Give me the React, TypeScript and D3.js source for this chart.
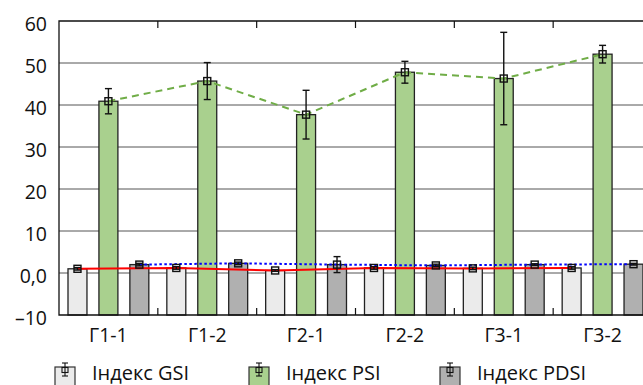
import React, { useEffect, useRef } from "react";
import * as d3 from "d3";

const CATEGORIES = ["Г1-1", "Г1-2", "Г2-1", "Г2-2", "Г3-1", "Г3-2"];
const SERIES = ["Індекс GSI", "Індекс PSI", "Індекс PDSI"];

const GSI = [1.0, 1.2, 0.6, 1.2, 1.1, 1.2];
const GSI_ERR = [0.3, 0.3, 0.2, 0.3, 0.3, 0.3];
const PSI = [40.9, 45.7, 37.7, 47.8, 46.3, 52.1];
const PSI_ERR = [3.0, 4.4, 5.8, 2.6, 11.0, 2.1];
const PDSI = [2.0, 2.3, 2.0, 1.8, 2.0, 2.1];
const PDSI_ERR = [0.3, 0.3, 1.9, 0.3, 0.2, 0.2];

const Y_TICKS = [-10, 0, 10, 20, 30, 40, 50, 60];

const WIDTH = 643;
const HEIGHT = 385;
const FONT = "'Open Sans', 'Noto Sans', sans-serif";

const FILLS = ["#ebebeb", "#a9d08e", "#b0b0b0"];
const LINE_COLORS = ["#ff0000", "#70ad47", "#0000ff"];
const LINE_DASH = [null, "7,5", "2.5,2.5"];

export default function App() {
	const ref = useRef<SVGSVGElement>(null);

	useEffect(() => {
		const svg = d3.select(ref.current);
		svg.selectAll("*").remove();

		const left = 59,
			right = 652,
			top = 21,
			bottom = 315;

		const y = d3.scaleLinear().domain([-10, 60]).range([bottom, top]);
		const x0 = d3.scaleBand().domain(CATEGORIES).range([left, right]);
		const x1 = d3
			.scaleBand()
			.domain(SERIES)
			.range([9, x0.bandwidth() - 9])
			.paddingInner(0.387);

		const values = [GSI, PSI, PDSI];
		const errors = [GSI_ERR, PSI_ERR, PDSI_ERR];

		// grid lines
		svg
			.append("g")
			.selectAll("line")
			.data(Y_TICKS.filter((t) => t > -10 && t < 60))
			.enter()
			.append("line")
			.attr("x1", left)
			.attr("x2", right)
			.attr("y1", (d) => y(d))
			.attr("y2", (d) => y(d))
			.attr("stroke", "#555")
			.attr("stroke-width", 1);

		// y labels
		svg
			.append("g")
			.selectAll("text")
			.data(Y_TICKS)
			.enter()
			.append("text")
			.attr("x", 47)
			.attr("y", (d) => y(d) + 5)
			.attr("text-anchor", "end")
			.attr("dominant-baseline", "middle")
			.style("font-family", FONT)
			.style("font-size", "19.5px")
			.attr("fill", "#111")
			.text((d) => (d === 0 ? "0,0" : d < 0 ? "–" + Math.abs(d) : String(d)));

		// bars
		values.forEach((vals, s) => {
			svg
				.append("g")
				.selectAll("rect")
				.data(vals)
				.enter()
				.append("rect")
				.attr("x", (d, i) => x0(CATEGORIES[i])! + x1(SERIES[s])!)
				.attr("y", (d) => y(d))
				.attr("width", x1.bandwidth())
				.attr("height", (d) => y(-10) - y(d))
				.attr("fill", FILLS[s])
				.attr("stroke", "#222")
				.attr("stroke-width", 1.3);
		});

		// axes frame
		svg
			.append("path")
			.attr("d", `M${right},${top}H${left}V${bottom}H${right}`)
			.attr("fill", "none")
			.attr("stroke", "#111")
			.attr("stroke-width", 1.3);

		// category boundary ticks
		const bounds = CATEGORIES.slice(1).map((c) => x0(c)!);
		const tg = svg.append("g").attr("stroke", "#111").attr("stroke-width", 1.2);
		bounds.forEach((b) => {
			tg.append("line").attr("x1", b).attr("x2", b).attr("y1", top).attr("y2", top + 7);
			tg.append("line").attr("x1", b).attr("x2", b).attr("y1", bottom).attr("y2", bottom - 7);
		});

		const cx = (s: number, i: number) =>
			x0(CATEGORIES[i])! + x1(SERIES[s])! + x1.bandwidth() / 2;

		// trend lines
		values.forEach((vals, s) => {
			const line = d3
				.line<number>()
				.x((d, i) => cx(s, i))
				.y((d) => y(d));
			svg
				.append("path")
				.datum(vals)
				.attr("d", line)
				.attr("fill", "none")
				.attr("stroke", LINE_COLORS[s])
				.attr("stroke-width", 2)
				.attr("stroke-dasharray", LINE_DASH[s]);
		});

		// error bars + markers
		values.forEach((vals, s) => {
			const g = svg.append("g").attr("stroke", "#111").attr("stroke-width", 1.4);
			vals.forEach((v, i) => {
				const e = errors[s][i];
				const xc = cx(s, i);
				g.append("line").attr("x1", xc).attr("x2", xc).attr("y1", y(v + e)).attr("y2", y(v - e));
				g.append("line").attr("x1", xc - 3.5).attr("x2", xc + 3.5).attr("y1", y(v + e)).attr("y2", y(v + e));
				g.append("line").attr("x1", xc - 3.5).attr("x2", xc + 3.5).attr("y1", y(v - e)).attr("y2", y(v - e));
				g.append("rect")
					.attr("x", xc - 3.5)
					.attr("y", y(v) - 3.5)
					.attr("width", 7)
					.attr("height", 7)
					.attr("fill", "none");
			});
		});

		// x labels
		svg
			.append("g")
			.selectAll("text")
			.data(CATEGORIES)
			.enter()
			.append("text")
			.attr("x", (d) => x0(d)! + x0.bandwidth() / 2)
			.attr("y", 342)
			.attr("text-anchor", "middle")
			.style("font-family", FONT)
			.style("font-size", "19.5px")
			.attr("fill", "#111")
			.text((d) => d);

		// legend
		const legendX = [55, 249, 440];
		SERIES.forEach((name, s) => {
			const g = svg.append("g").attr("transform", `translate(${legendX[s]},367)`);
			g.append("rect")
				.attr("x", 0)
				.attr("y", 0)
				.attr("width", 20)
				.attr("height", 20)
				.attr("fill", FILLS[s])
				.attr("stroke", "#333")
				.attr("stroke-width", 1.2);
			const m = g.append("g").attr("stroke", "#111").attr("stroke-width", 1.1);
			m.append("line").attr("x1", 10).attr("x2", 10).attr("y1", -4).attr("y2", 9);
			m.append("line").attr("x1", 7).attr("x2", 13).attr("y1", -4).attr("y2", -4);
			m.append("line").attr("x1", 7).attr("x2", 13).attr("y1", 9).attr("y2", 9);
			m.append("rect").attr("x", 7).attr("y", 0.5).attr("width", 6).attr("height", 5).attr("fill", "none");
			g.append("text")
				.attr("x", 37)
				.attr("y", 13)
				.style("font-family", FONT)
				.style("font-size", "20px")
				.attr("fill", "#111")
				.text(name);
		});
	}, []);

	return (
		<svg
			ref={ref}
			width={WIDTH}
			height={HEIGHT}
			style={{ position: "absolute", left: 0, top: 0, background: "#fff" }}
		></svg>
	);
}
